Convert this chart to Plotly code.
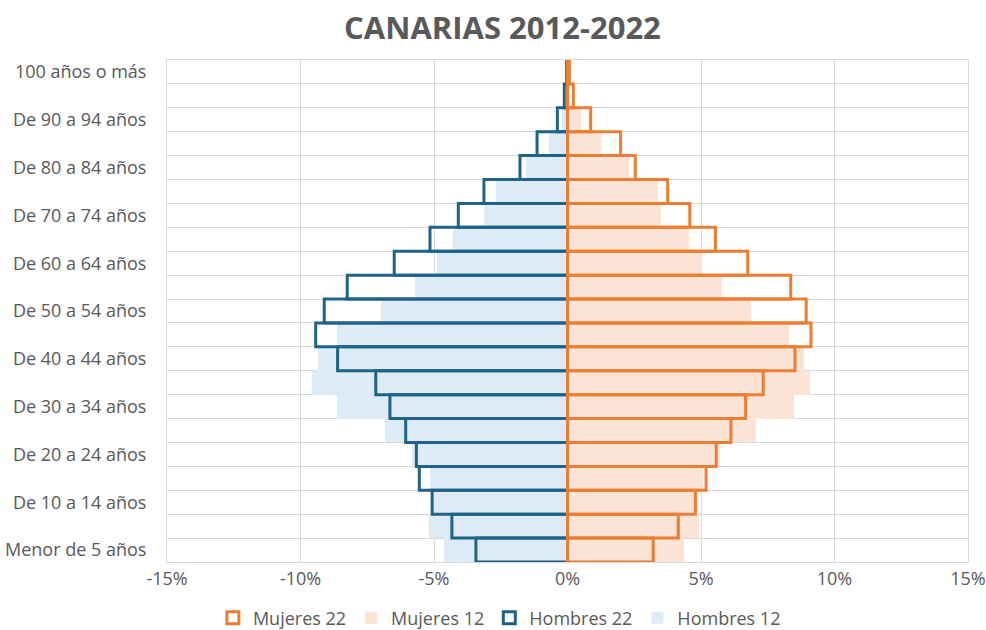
import plotly.graph_objects as go

grupos = ["Menor de 5 años", "De 5 a 9 años", "De 10 a 14 años", "De 15 a 19 años",
          "De 20 a 24 años", "De 25 a 29 años", "De 30 a 34 años", "De 35 a 39 años",
          "De 40 a 44 años", "De 45 a 49 años", "De 50 a 54 años", "De 55 a 59 años",
          "De 60 a 64 años", "De 65 a 69 años", "De 70 a 74 años", "De 75 a 79 años",
          "De 80 a 84 años", "De 85 a 89 años", "De 90 a 94 años", "De 95 a 99 años",
          "100 años o más"]

hombres_22 = [-3.43, -4.33, -5.07, -5.55, -5.66, -6.06, -6.65, -7.18, -8.61, -9.43, -9.11,
              -8.25, -6.49, -5.15, -4.09, -3.13, -1.78, -1.14, -0.38, -0.12, -0.03]
hombres_12 = [-4.63, -5.19, -5.10, -5.15, -5.84, -6.84, -8.63, -9.57, -9.34, -8.62, -6.97,
              -5.72, -4.90, -4.29, -3.14, -2.69, -1.55, -0.69, -0.22, -0.05, -0.01]
mujeres_22 = [3.21, 4.15, 4.79, 5.19, 5.57, 6.12, 6.67, 7.33, 8.52, 9.12, 8.94,
              8.36, 6.75, 5.54, 4.58, 3.75, 2.54, 1.99, 0.87, 0.22, 0.07]
mujeres_12 = [4.36, 4.93, 4.90, 5.09, 5.71, 7.06, 8.50, 9.08, 8.86, 8.31, 6.87,
              5.79, 5.02, 4.55, 3.50, 3.40, 2.30, 1.24, 0.49, 0.10, 0.03]

x_ticks = [-15, -10, -5, 0, 5, 10, 15]

AZUL = "#1F6386"
AZUL_CLARO = "#DDEBF7"
NARANJA = "#ED7D31"
MELOCOTON = "#FBE3D6"
GRIS = "#595959"
REJILLA = "#D9D9D9"

pos = list(range(len(grupos)))

fig = go.Figure()
fig.add_trace(go.Bar(y=pos, x=hombres_12, orientation="h", name="Hombres 12",
                     marker=dict(color=AZUL_CLARO, line=dict(width=0)),
                     width=1, legendrank=4))
fig.add_trace(go.Bar(y=pos, x=mujeres_12, orientation="h", name="Mujeres 12",
                     marker=dict(color=MELOCOTON, line=dict(width=0)),
                     width=1, legendrank=2))
fig.add_trace(go.Bar(y=pos, x=hombres_22, orientation="h", name="Hombres 22",
                     marker=dict(color="rgba(0,0,0,0)", line=dict(color=AZUL, width=3)),
                     width=1, legendrank=3))
fig.add_trace(go.Bar(y=pos, x=mujeres_22, orientation="h", name="Mujeres 22",
                     marker=dict(color="rgba(0,0,0,0)", line=dict(color=NARANJA, width=3)),
                     width=1, legendrank=1))

fig.update_layout(
    width=986, height=630,
    paper_bgcolor="white", plot_bgcolor="white",
    barmode="overlay", bargap=0,
    margin=dict(l=167, r=18, t=60, b=68, autoexpand=False),
    font=dict(family="Open Sans", color=GRIS, size=18),
    title=dict(text="<b>CANARIAS 2012-2022</b>", x=0.5096, xanchor="center",
               y=1 - 28 / 630, yanchor="middle",
               font=dict(family="Open Sans", size=31, color=GRIS)),
    showlegend=True,
    legend=dict(orientation="h", x=0.415, xanchor="center", y=-0.1116, yanchor="middle",
                font=dict(size=18, color=GRIS), traceorder="normal",
                itemwidth=30, tracegroupgap=0),
    hovermode=False,
)

fig.update_xaxes(range=[-15, 15], tickvals=x_ticks, ticktext=[f"{v}%" for v in x_ticks],
                 showgrid=True, gridcolor=REJILLA, gridwidth=1, zeroline=False,
                 showline=True, mirror=True, linecolor=REJILLA, linewidth=1,
                 ticks="", automargin=False, tickfont=dict(size=18, color=GRIS))
fig.update_yaxes(range=[-0.5, len(grupos) - 0.5],
                 tickvals=pos[::2], ticktext=grupos[::2],
                 showgrid=False, zeroline=False,
                 showline=True, mirror=True, linecolor=REJILLA, linewidth=1,
                 ticks="", automargin=False, ticklabelstandoff=16,
                 tickfont=dict(size=18, color=GRIS),
                 minor=dict(tickmode="linear", tick0=-0.5, dtick=1, showgrid=True,
                            gridcolor=REJILLA, gridwidth=1, ticks=""))

fig.write_html("out.html", config={"displayModeBar": False, "staticPlot": True},
               post_script="document.body.style.margin='0px';document.body.style.overflow='hidden';")
